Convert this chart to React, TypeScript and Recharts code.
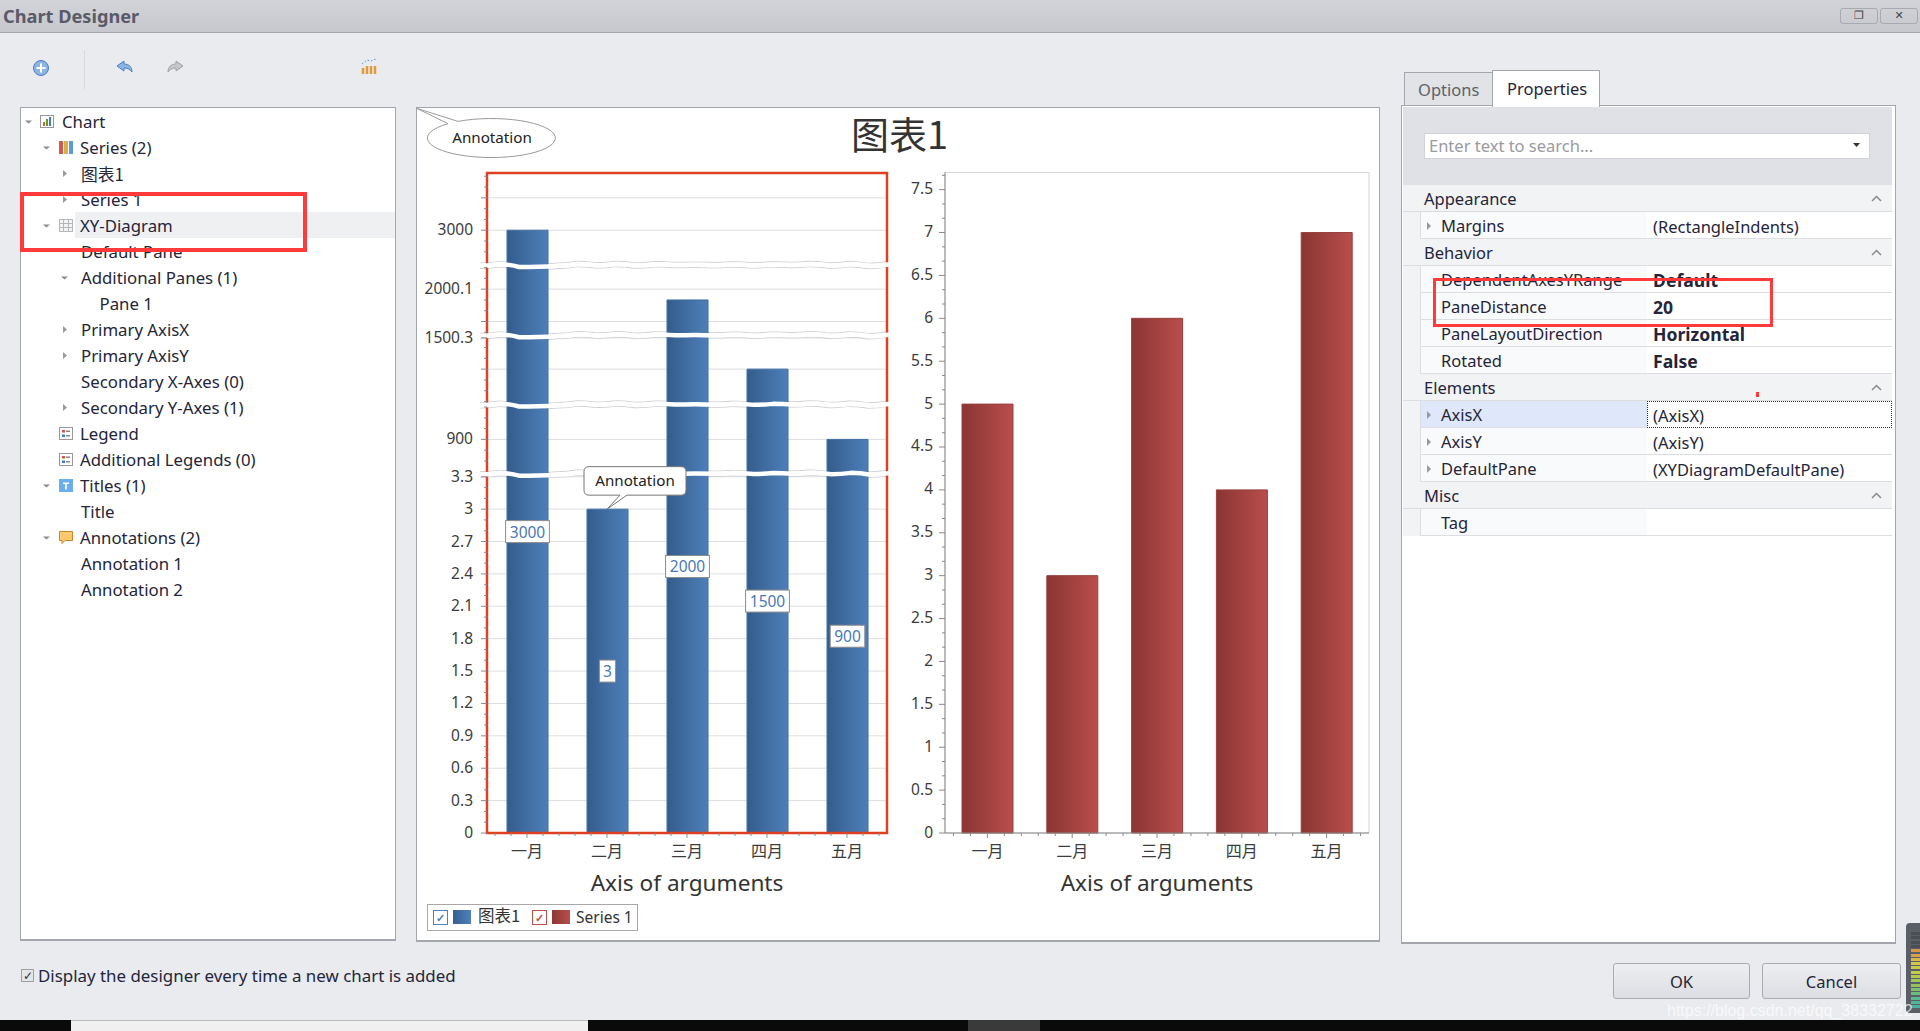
import React from "react";
import { Bar, BarChart, CartesianGrid, LabelList, ReferenceArea, ReferenceDot, XAxis, YAxis } from "recharts";

const months = ["一月", "二月", "三月", "四月", "五月"];
const series1Values = [3000, 3, 2000, 1500, 900];
const series2Values = [5, 3, 6, 4, 7];

// value ranges that stay visible on the broken axis of the left pane
const visibleRanges = [
  [0, 3.305],
  [899.71, 900.3],
  [1499.7, 1500.29],
  [1999.7, 2000.3],
  [2999.705, 3000.53],
];
const leftLabels = [0, 0.3, 0.6, 0.9, 1.2, 1.5, 1.8, 2.1, 2.4, 2.7, 3, 3.3, 900, 1500.3, 2000.1, 3000];
const leftUnlabelled = [1500, 1999.8, 3000.3];
const rightTicks = [0, 0.5, 1, 1.5, 2, 2.5, 3, 3.5, 4, 4.5, 5, 5.5, 6, 6.5, 7, 7.5];

const treeRows = [
  { level: 0, text: "Chart", arrow: "open", icon: "chart" },
  { level: 1, text: "Series (2)", arrow: "open", icon: "series" },
  { level: 2, text: "图表1", arrow: "closed" },
  { level: 2, text: "Series 1", arrow: "closed" },
  { level: 1, text: "XY-Diagram", arrow: "open", icon: "grid", selected: true },
  { level: 2, text: "Default Pane" },
  { level: 2, text: "Additional Panes (1)", arrow: "open" },
  { level: 3, text: "Pane 1" },
  { level: 2, text: "Primary AxisX", arrow: "closed" },
  { level: 2, text: "Primary AxisY", arrow: "closed" },
  { level: 2, text: "Secondary X-Axes (0)" },
  { level: 2, text: "Secondary Y-Axes (1)", arrow: "closed" },
  { level: 1, text: "Legend", icon: "legend" },
  { level: 1, text: "Additional Legends (0)", icon: "legend" },
  { level: 1, text: "Titles (1)", arrow: "open", icon: "title" },
  { level: 2, text: "Title" },
  { level: 1, text: "Annotations (2)", arrow: "open", icon: "note" },
  { level: 2, text: "Annotation 1" },
  { level: 2, text: "Annotation 2" },
];

const propertyRows = [
  { header: "Appearance" },
  { name: "Margins", value: "(RectangleIndents)", arrow: true },
  { header: "Behavior" },
  { name: "DependentAxesYRange", value: "Default", bold: true },
  { name: "PaneDistance", value: "20", bold: true },
  { name: "PaneLayoutDirection", value: "Horizontal", bold: true },
  { name: "Rotated", value: "False", bold: true },
  { header: "Elements" },
  { name: "AxisX", value: "(AxisX)", arrow: true, active: true },
  { name: "AxisY", value: "(AxisY)", arrow: true },
  { name: "DefaultPane", value: "(XYDiagramDefaultPane)", arrow: true },
  { header: "Misc" },
  { name: "Tag", value: "" },
];

const meterColors = ["#4a4e55", "#4a4e55", "#4a4e55", "#4a4e55", "#d8964a", "#d8a04a", "#d8b84a", "#d4c44a", "#c8c84a", "#c4cc4a", "#b4c84a", "#a4c45a", "#94c060", "#7cc070", "#6cbc80", "#5cb890", "#54b498", "#4cb0a0"];

const FONT = '"Noto Sans", sans-serif';
const CJK = '"Noto Sans CJK SC", "Noto Sans", sans-serif';
const WAVE = [1, -0.5, 2.2, 2, 1, -0.8, 0.6, -0.8, 0.8, -0.6, 0.2, 0, 0.4, -0.4, 0.6, -0.4, 0.2, -0.8, 0.8, -0.6, 1.2, -0.6];

const leftData = months.map((month, i) => ({ month, value: series1Values[i] }));
const rightData = months.map((month, i) => ({ month, value: series2Values[i] }));

const leftMinor: number[] = [];
visibleRanges.forEach(([lo, hi]) => {
  for (let v = Math.ceil(lo * 10); v <= Math.floor(hi * 10); v++) leftMinor.push(v / 10);
});
const leftTicks = Array.from(new Set([...leftMinor, ...leftLabels, ...leftUnlabelled])).sort((a, b) => a - b);
const rightMinor: number[] = [];
for (let v = 0; v <= 46; v++) if (v % 3 !== 0) rightMinor.push(v / 6);

function brokenScale(ranges: number[][], gap: number) {
  let dom = [ranges[0][0], ranges[ranges.length - 1][1]];
  let rng = [1, 0];
  const scale: any = (v: number) => {
    const span = ranges.reduce((s, r) => s + r[1] - r[0], 0);
    const dir = rng[1] < rng[0] ? -1 : 1;
    const per = (Math.abs(rng[1] - rng[0]) - gap * (ranges.length - 1)) / span;
    let pos = 0;
    for (let i = 0; i < ranges.length; i++) {
      const [lo, hi] = ranges[i];
      if (v <= hi) return rng[0] + dir * (pos + Math.max(v - lo, 0) * per);
      pos += (hi - lo) * per;
      if (i < ranges.length - 1 && v < ranges[i + 1][0]) {
        return rng[0] + dir * (pos + ((v - hi) / (ranges[i + 1][0] - hi)) * gap);
      }
      pos += gap;
    }
    return rng[1];
  };
  scale.domain = (d?: number[]) => {
    if (!d) return dom;
    dom = d;
    return scale;
  };
  scale.range = (r?: number[]) => {
    if (!r) return rng;
    rng = r;
    return scale;
  };
  scale.copy = () => brokenScale(ranges, gap).domain(dom).range(rng);
  scale.ticks = () => leftTicks;
  return scale;
}

function wavePath(x0: number, x1: number, y: number) {
  let d = `M${x0} ${y + WAVE[0]}`;
  const step = (x1 - x0) / (WAVE.length - 1);
  for (let i = 1; i < WAVE.length; i++) {
    const px = x0 + step * (i - 1);
    const nx = x0 + step * i;
    d += ` Q${px + step / 2} ${y + WAVE[i - 1]} ${(px + nx) / 2 + step / 2} ${y + WAVE[i]}`;
  }
  return d;
}

function BreakLines(props: any) {
  const { x, y, width, height } = props;
  return (
    <g>
      <path d={wavePath(x - 7, x + width, y)} fill="none" stroke="#cfd1d3" />
      <path d={wavePath(x - 7, x + width, y + height)} fill="none" stroke="#cfd1d3" />
    </g>
  );
}

function BreakBand(props: any) {
  const { x, y, width, height } = props;
  return <path d={wavePath(x - 7, x + width + 3, y + height / 2)} fill="none" stroke="#fff" strokeWidth={height - 1} />;
}

function LeftTick(props: any) {
  const { x, y, payload } = props;
  const v = payload.value;
  const labelled = leftLabels.includes(v);
  const major = labelled || leftUnlabelled.includes(v);
  return (
    <g>
      <line x1={x - (major ? 6 : 3)} x2={x} y1={y} y2={y} stroke="#8a8a8a" />
      {labelled && (
        <text x={x - 14} y={y - 1} textAnchor="end" dominantBaseline="central" fontSize={15.5} fontFamily={FONT} fill="#3c3c3c">
          {v}
        </text>
      )}
    </g>
  );
}

function RightTick(props: any) {
  const { x, y, payload } = props;
  const major = rightTicks.includes(payload.value);
  return (
    <g>
      <line x1={x - (major ? 6 : 3)} x2={x} y1={y} y2={y} stroke="#8a8a8a" />
      {major && (
        <text x={x - 12} y={y - 1.5} textAnchor="end" dominantBaseline="central" fontSize={15.5} fontFamily={FONT} fill="#3c3c3c">
          {payload.value}
        </text>
      )}
    </g>
  );
}

function monthTick(band: number) {
  return function MonthTick(props: any) {
    const { x, y, payload } = props;
    return (
      <g>
        <line x1={x} x2={x} y1={y} y2={y + 5} stroke="#8a8a8a" />
        {[-2, -1, 1, 2].map((k) => (
          <line key={k} x1={x + (k * band) / 5} x2={x + (k * band) / 5} y1={y} y2={y + 3} stroke="#8a8a8a" />
        ))}
        <text x={x} y={y + 17} textAnchor="middle" dominantBaseline="central" fontSize={16} fontFamily={CJK} fill="#3c3c3c">
          {payload.value}
        </text>
      </g>
    );
  };
}

function ValueBox(props: any) {
  const { x, y, width, height, value } = props;
  const w = String(value).length * 9.2 + 7;
  const cx = x + width / 2;
  const cy = y + height / 2;
  return (
    <g>
      <rect x={cx - w / 2} y={cy - 11} width={w} height={22} fill="#fff" stroke="#8c8c8c" />
      <text x={cx} y={cy} textAnchor="middle" dominantBaseline="central" fontSize={15.5} fontFamily={FONT} fill="#4a78b4">
        {value}
      </text>
    </g>
  );
}

function BarCallout(props: any) {
  const { cx, cy } = props;
  return (
    <g>
      <path
        d={`M${cx - 18} ${cy - 42.5} H${cx + 74} Q${cx + 79} ${cy - 42.5} ${cx + 79} ${cy - 37.5} V${cy - 19} Q${cx + 79} ${cy - 14} ${cx + 74} ${cy - 14} H${cx + 20} L${cx} ${cy} L${cx + 13} ${cy - 14} H${cx - 18} Q${cx - 23} ${cy - 14} ${cx - 23} ${cy - 19} V${cy - 37.5} Q${cx - 23} ${cy - 42.5} ${cx - 18} ${cy - 42.5} Z`}
        fill="#fff"
        stroke="#777"
      />
      <text x={cx + 28} y={cy - 29} textAnchor="middle" dominantBaseline="central" fontSize={15.2} fontFamily={FONT} fill="#222">
        Annotation
      </text>
    </g>
  );
}

function Arrow({ kind, x, y }: any) {
  if (kind === "open") return <polygon points={`${x - 4},${y - 1} ${x + 3},${y - 1} ${x - 0.5},${y + 2}`} fill="#8a8a8a" />;
  return <polygon points={`${x - 2},${y - 3.5} ${x + 2},${y} ${x - 2},${y + 3.5}`} fill="#9a9a9a" />;
}

function TreeIcon({ kind, x, y }: any) {
  const t = `translate(${x} ${y})`;
  if (kind === "chart")
    return (
      <g transform={t}>
        <rect x={0.5} y={0.5} width={13} height={12} fill="#fff" stroke="#999" />
        <rect x={3} y={7} width={2} height={4} fill="#d9632a" />
        <rect x={6} y={4} width={2} height={7} fill="#5aa02c" />
        <rect x={9} y={2} width={2} height={9} fill="#3b7fc4" />
      </g>
    );
  if (kind === "series")
    return (
      <g transform={t}>
        <rect x={0} y={0} width={4} height={13} fill="#d9534f" />
        <rect x={5} y={0} width={4} height={13} fill="#d8b04a" />
        <rect x={10} y={0} width={4} height={13} fill="#5b9bd5" />
      </g>
    );
  if (kind === "grid")
    return (
      <g transform={t} stroke="#b4b8bc" fill="none">
        <rect x={0.5} y={0.5} width={13} height={12} fill="#f3f3f3" />
        <path d="M0 4.5H14M0 8.5H14M4.5 0V13M9.5 0V13" />
      </g>
    );
  if (kind === "legend")
    return (
      <g transform={t}>
        <rect x={0.5} y={0.5} width={13} height={12} fill="#fff" stroke="#999" />
        <rect x={3} y={3} width={3} height={2.5} fill="#d9534f" />
        <rect x={3} y={7.5} width={3} height={2.5} fill="#3b7fc4" />
        <rect x={7} y={3.5} width={4} height={1.5} fill="#888" />
        <rect x={7} y={8} width={4} height={1.5} fill="#888" />
      </g>
    );
  if (kind === "title")
    return (
      <g transform={t}>
        <rect x={0} y={0} width={14} height={13} fill="#6aaeea" />
        <path d="M4 3.5H10V5H7.8V10.5H6.2V5H4Z" fill="#fff" />
      </g>
    );
  return (
    <g transform={t}>
      <path d="M0.5 0.5H13.5V9.5H6L3 12.5V9.5H0.5Z" fill="#fcc96e" stroke="#c8872e" />
    </g>
  );
}

function Abs({ x, y, w, h, style, children }: any) {
  return <div style={{ position: "absolute", left: x, top: y, width: w, height: h, ...style }}>{children}</div>;
}

function Label({ x, y, size = 16.5, color = "#25253a", weight = 400, family = FONT, children }: any) {
  return (
    <div style={{ position: "absolute", left: x, top: y, transform: "translateY(-50%)", fontSize: size, color, fontWeight: weight, fontFamily: family, whiteSpace: "nowrap", lineHeight: 1.2 }}>
      {children}
    </div>
  );
}

function Tree() {
  return (
    <>
      <Abs x={20} y={107} w={376} h={834} style={{ background: "#fff", border: "1px solid #a3a6ac", borderBottom: "2px solid #a3a6ac", boxSizing: "border-box" }} />
      <Abs x={75} y={212} w={320} h={26} style={{ background: "#eef0f2" }} />
      <svg style={{ position: "absolute", left: 0, top: 0 }} width={400} height={620}>
        {treeRows.map((r, i) =>
          r.arrow ? <Arrow key={i} kind={r.arrow} x={29 + r.level * 18} y={121.5 + i * 26} /> : null
        )}
        {treeRows.map((r, i) =>
          r.icon ? <TreeIcon key={i} kind={r.icon} x={r.level === 0 ? 40 : 59} y={115 + i * 26} /> : null
        )}
      </svg>
      {treeRows.map((r, i) => (
        <Label key={i} size={16.8} x={r.level === 3 ? 99.5 : r.level === 2 ? 81 : r.level === 1 ? 80 : 62} y={121.5 + i * 26} family={r.text === "图表1" ? CJK : FONT}>
          {r.text}
        </Label>
      ))}
      <Abs x={20} y={192} w={287} h={60} style={{ border: "4px solid #ff3a3a", boxSizing: "border-box" }} />
    </>
  );
}

function PropertyGrid() {
  let y = 185;
  const step = 27;
  return (
    <>
      <Abs x={1404} y={72} w={89} h={34} style={{ background: "#e1e3e7", border: "1px solid #a3a6ac", borderBottom: "none", boxSizing: "border-box" }} />
      <Label x={1418} y={90} color="#606068">Options</Label>
      <Abs x={1401} y={105} w={495} h={839} style={{ background: "#fff", border: "1px solid #a3a6ac", borderBottom: "2px solid #a3a6ac", boxSizing: "border-box" }} />
      <Abs x={1492} y={70} w={108} h={37} style={{ background: "#fff", border: "1px solid #a3a6ac", borderBottom: "none", boxSizing: "border-box" }} />
      <Label x={1507} y={89}>Properties</Label>
      <Abs x={1403} y={107} w={489} h={78} style={{ background: "#dfe1e6" }} />
      <Abs x={1424} y={133} w={446} h={26} style={{ background: "#fff", border: "1px solid #cfd2d8", boxSizing: "border-box" }} />
      <Label x={1429} y={146} color="#9a9aa2">Enter text to search...</Label>
      <svg style={{ position: "absolute", left: 1853, top: 143 }} width={10} height={6}>
        <polygon points="0,0 7,0 3.5,4" fill="#333" />
      </svg>
      {propertyRows.map((r: any, i) => {
        const top = y;
        y += step;
        if (r.header) {
          return (
            <React.Fragment key={i}>
              <Abs x={1403} y={top} w={489} h={step} style={{ background: "#f2f3f5", borderBottom: "1px solid #dcdee2", boxSizing: "border-box" }} />
              <Label x={1424} y={top + 14}>{r.header}</Label>
              <svg style={{ position: "absolute", left: 1871, top: top + 10 }} width={12} height={8}>
                <path d="M1 6L5.5 1.5L10 6" fill="none" stroke="#8a8a8a" strokeWidth={1.5} />
              </svg>
            </React.Fragment>
          );
        }
        return (
          <React.Fragment key={i}>
            <Abs x={1403} y={top} w={18} h={step} style={{ background: "#f2f3f5" }} />
            <Abs x={1420} y={top} w={228} h={step} style={{ background: r.active ? "#dfe8fa" : "#f9fafb", border: "1px solid #dcdee2", borderTop: "none", boxSizing: "border-box" }} />
            <Abs x={1647} y={top} w={245} h={step} style={{ background: "#fff", border: r.active ? "1px dotted #333" : "none", borderBottom: r.active ? "1px dotted #333" : "1px solid #dcdee2", boxSizing: "border-box" }} />
            {r.arrow && (
              <svg style={{ position: "absolute", left: 1425, top: top + 9 }} width={8} height={10}>
                <polygon points="2,1 6,5 2,9" fill="#9a9a9a" />
              </svg>
            )}
            <Label x={1441} y={top + 13.5}>{r.name}</Label>
            <Label x={1653} y={top + 14.5} size={r.bold ? 17.6 : 16.5} weight={r.bold ? 700 : 400}>{r.value}</Label>
          </React.Fragment>
        );
      })}
      <Abs x={1433} y={278} w={340} h={49} style={{ border: "3px solid #ff3a3a", boxSizing: "border-box" }} />
      <Abs x={1756} y={392} w={3} h={5} style={{ background: "#ff3a3a" }} />
    </>
  );
}

function Toolbar() {
  return (
    <svg style={{ position: "absolute", left: 0, top: 34 }} width={420} height={56}>
      <circle cx={41} cy={34} r={7.5} fill="#8db4e2" stroke="#4a7fc0" />
      <path d="M41 29.5V38.5M36.5 34H45.5" stroke="#fff" strokeWidth={2} />
      <line x1={84.5} x2={84.5} y1={16} y2={55} stroke="#d8dade" />
      <path d="M117 32L124 27V30C129 30 132 33 132 38C130 35 127 34 124 34V37Z" fill="#8db4e2" stroke="#4a7fc0" />
      <path d="M183 32L176 27V30C171 30 168 33 168 38C170 35 173 34 176 34V37Z" fill="#c4c6ca" stroke="#a0a2a6" />
      <path d="M363 34V40M367 32V40M371 32V40M375 32V40" stroke="#e09a3c" strokeWidth={2.5} />
      <path d="M362 30L367 26L371 27L376 25" stroke="#5a8fc8" strokeDasharray="1.5 2" fill="none" />
    </svg>
  );
}

function Legend() {
  const box = (x: number, color: string) => (
    <Abs x={x} y={910} w={15} h={15} style={{ border: `1px solid ${color}`, boxSizing: "border-box", color, fontSize: 11, lineHeight: "13px", textAlign: "center", fontFamily: FONT, fontWeight: 700 }}>
      ✓
    </Abs>
  );
  return (
    <>
      <Abs x={427} y={904} w={211} h={27} style={{ background: "#fff", border: "1px solid #a8a8a8", boxSizing: "border-box" }} />
      {box(433, "#4f81bd")}
      <Abs x={453} y={910} w={18} h={14} style={{ background: "linear-gradient(90deg,#365f91,#4f81bd)" }} />
      <Label x={478} y={916} family={CJK} size={16.5} color="#333">图表1</Label>
      {box(532, "#c0504d")}
      <Abs x={552} y={910} w={18} h={14} style={{ background: "linear-gradient(90deg,#8c3836,#b84e4b)" }} />
      <Label x={576} y={917} size={15.5} color="#333">Series 1</Label>
    </>
  );
}

function BottomBar() {
  return (
    <>
      <Label x={38} y={976} size={16.9}>Display the designer every time a new chart is added</Label>
      <Abs x={21} y={969} w={13} h={13} style={{ background: "#e4e5e8", border: "1px solid #a0a0a0", boxSizing: "border-box", fontSize: 12, lineHeight: "11px", textAlign: "center", color: "#333", fontFamily: FONT }}>
        ✓
      </Abs>
      {[
        { x: 1613, w: 137, text: "OK" },
        { x: 1762, w: 139, text: "Cancel" },
      ].map((b) => (
        <Abs key={b.text} x={b.x} y={963} w={b.w} h={36} style={{ background: "linear-gradient(#eceef1,#dcdee3)", border: "1px solid #a9abb0", borderRadius: 3, boxSizing: "border-box", display: "flex", alignItems: "center", justifyContent: "center", fontFamily: FONT, fontSize: 16.5, color: "#25253a" }}>
          {b.text}
        </Abs>
      ))}
      <Abs x={1906} y={923} w={14} h={90} style={{ background: "#5a5e66", borderRadius: "4px 0 0 4px" }}>
        {meterColors.map((c, i) => (
          <div key={i} style={{ position: "absolute", left: 5, top: 9 + i * 4.3, width: 9, height: 3, background: c }} />
        ))}
      </Abs>
      <Abs x={0} y={1020} w={1920} h={11} style={{ background: "#0a0a0a", overflow: "hidden" }}>
        <Abs x={71} y={0} w={517} h={11} style={{ background: "#f0f0f0", borderTop: "1px solid #bbb", boxSizing: "border-box" }} />
        <Abs x={968} y={0} w={72} h={11} style={{ background: "#3a3a3a" }} />
        <Abs x={1760} y={7} style={{ color: "#fff", fontFamily: FONT, fontSize: 15, lineHeight: "18px" }}>10:30</Abs>
      </Abs>
      <Label x={1667} y={1011} size={16} color="rgba(255,255,255,0.7)" family='"Liberation Sans", sans-serif'>
        https://blog.csdn.net/qq_38332722
      </Label>
    </>
  );
}

export default function App() {
  const leftScale = brokenScale(visibleRanges, 5.5);
  return (
    <div style={{ position: "absolute", left: 0, top: 0, width: 1920, height: 1031, background: "#e9ebef", overflow: "hidden" }}>
      <Abs x={0} y={0} w={1920} h={33} style={{ background: "linear-gradient(#d2d4da,#c6c8ce)", borderBottom: "1px solid #a5a7ad", boxSizing: "border-box" }} />
      <Label x={3} y={17} size={18.2} weight={700} color="#5a5a68">Chart Designer</Label>
      {[
        { x: 1840, w: 38, g: "❐" },
        { x: 1880, w: 38, g: "✕" },
      ].map((b) => (
        <Abs key={b.x} x={b.x} y={8} w={b.w} h={16} style={{ border: "1px solid #a8aab0", borderRadius: 3, boxSizing: "border-box", fontSize: 11, fontWeight: 700, lineHeight: "14px", textAlign: "center", color: "#444", fontFamily: '"DejaVu Sans", sans-serif' }}>
          {b.g}
        </Abs>
      ))}
      <Toolbar />
      <Tree />

      <Abs x={416} y={107} w={964} h={835} style={{ background: "#fff", border: "1px solid #a3a6ac", borderBottom: "2px solid #a3a6ac", boxSizing: "border-box" }} />
      <Label x={851} y={133} size={38} family={CJK} color="#333">图表1</Label>

      <Abs x={417} y={108}>
        <BarChart width={480} height={833} data={leftData} margin={{ top: 65, right: 10, bottom: 46, left: 0 }} barSize={41}>
          <defs>
            <linearGradient id="blueBar" x1="0" y1="0" x2="1" y2="0">
              <stop offset="0%" stopColor="#345c8c" />
              <stop offset="100%" stopColor="#4e7fb9" />
            </linearGradient>
          </defs>
          <CartesianGrid vertical={false} stroke="#dcdee0" horizontalValues={[...leftLabels, ...leftUnlabelled]} />
          <XAxis
            dataKey="month"
            height={62}
            interval={0}
            tickLine={false}
            tickSize={0}
            tickMargin={0}
            axisLine={{ stroke: "#8a8a8a" }}
            tick={monthTick(80)}
            label={{ value: "Axis of arguments", position: "insideBottom", offset: 4.5, style: { fontSize: 22.6, fontFamily: FONT, fill: "#333" } }}
          />
          <YAxis
            type="number"
            width={70}
            scale={leftScale}
            domain={[0, 3000.53]}
            ticks={leftTicks}
            interval={0}
            tickLine={false}
            tickSize={0}
            tickMargin={0}
            axisLine={{ stroke: "#8a8a8a" }}
            tick={LeftTick}
          />
          {visibleRanges.slice(1).map((r, i) => (
            <ReferenceArea key={i} y1={visibleRanges[i][1]} y2={r[0]} ifOverflow="visible" shape={BreakLines} zIndex={200} />
          ))}
          <Bar dataKey="value" fill="url(#blueBar)" stroke="#3f6ea3" isAnimationActive={false}>
            <LabelList dataKey="value" position="center" content={ValueBox} />
          </Bar>
          <ReferenceArea y1={0} y2={3000.53} fill="none" fillOpacity={0} stroke="#e04020" strokeWidth={2.5} ifOverflow="visible" zIndex={600} />
          {visibleRanges.slice(1).map((r, i) => (
            <ReferenceArea key={i} y1={visibleRanges[i][1]} y2={r[0]} ifOverflow="visible" shape={BreakBand} zIndex={700} />
          ))}
          <ReferenceDot x="二月" y={3} ifOverflow="visible" shape={BarCallout} zIndex={2500} />
        </BarChart>
      </Abs>

      <Abs x={900} y={108}>
        <BarChart width={479} height={833} data={rightData} margin={{ top: 64.5, right: 10, bottom: 46, left: 0 }} barSize={51}>
          <defs>
            <linearGradient id="redBar" x1="0" y1="0" x2="1" y2="0">
              <stop offset="0%" stopColor="#8a3534" />
              <stop offset="100%" stopColor="#b94e4b" />
            </linearGradient>
          </defs>
          <ReferenceArea y1={0} y2={7.7} fill="none" fillOpacity={0} stroke="#d2d5da" ifOverflow="visible" zIndex={100} />
          <XAxis
            dataKey="month"
            height={62}
            interval={0}
            tickLine={false}
            tickSize={0}
            tickMargin={0}
            axisLine={{ stroke: "#8a8a8a" }}
            tick={monthTick(84.8)}
            label={{ value: "Axis of arguments", position: "insideBottom", offset: 4.5, style: { fontSize: 22.6, fontFamily: FONT, fill: "#333" } }}
          />
          <YAxis
            type="number"
            width={45}
            domain={[0, 7.7]}
            ticks={[...rightTicks, ...rightMinor].sort((a, b) => a - b)}
            interval={0}
            tickLine={false}
            tickSize={0}
            tickMargin={0}
            axisLine={{ stroke: "#8a8a8a" }}
            tick={RightTick}
          />
          <Bar dataKey="value" fill="url(#redBar)" stroke="#96403e" isAnimationActive={false} />
        </BarChart>
      </Abs>

      <svg style={{ position: "absolute", left: 416, top: 107 }} width={150} height={60}>
        <path d="M0.7 1.3L42 14.4A64 19.5 0 1 1 32 16.7Z" fill="#fff" stroke="#9a9a9a" />
        <text x={76} y={30} textAnchor="middle" dominantBaseline="central" fontSize={15.2} fontFamily={FONT} fill="#222">Annotation</text>
      </svg>

      <Legend />
      <PropertyGrid />
      <BottomBar />
    </div>
  );
}
